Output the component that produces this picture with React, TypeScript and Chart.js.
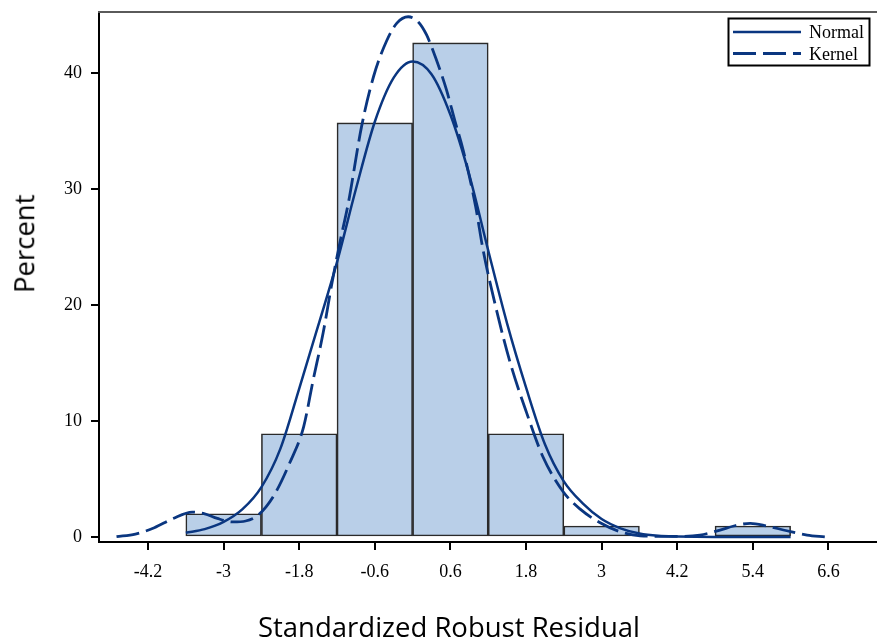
import React, { useEffect, useRef } from "react";
import { Chart, registerables } from "chart.js";

Chart.register(...registerables);

// Histogram bins (midpoints) and percentages
const binCenters = [-3, -1.8, -0.6, 0.6, 1.8, 3, 4.2, 5.4];
const binPercents: (number | null)[] = [2.0, 8.9, 35.7, 42.6, 8.9, 0.95, null, 0.95];

// Normal density curve (percent scale)
const normalX = [-3.6, -3.3, -3.0, -2.7, -2.4, -2.1, -1.8, -1.5, -1.2, -0.9, -0.6, -0.3, 0.0, 0.3, 0.6, 0.9, 1.2, 1.5, 1.8, 2.1, 2.4, 2.7, 3.0, 3.3, 3.6, 3.9, 4.2, 4.8, 5.4, 6.0];
const normalY = [0.37, 0.68, 1.3, 2.4, 4.3, 7.6, 12.8, 18.2, 23.7, 30.0, 35.8, 39.6, 41.0, 39.9, 36.4, 31.2, 24.7, 18.4, 12.9, 8.0, 4.8, 2.9, 1.55, 0.75, 0.3, 0.1, 0.04, 0.0, 0.0, 0.0];

// Kernel density curve (percent scale)
const kernelX = [-4.7, -4.4, -4.1, -3.8, -3.5, -3.3, -3.1, -2.85, -2.65, -2.45, -2.2, -1.95, -1.73, -1.58, -1.42, -1.28, -1.15, -1.02, -0.81, -0.62, -0.41, -0.25, -0.07, 0.09, 0.22, 0.38, 0.54, 0.67, 0.8, 1.0, 1.12, 1.33, 1.55, 1.81, 2.07, 2.39, 2.66, 2.97, 3.29, 3.61, 4.14, 4.56, 4.88, 5.1, 5.36, 5.62, 5.94, 6.26, 6.55];
const kernelY = [0.03, 0.25, 0.8, 1.6, 2.15, 2.0, 1.6, 1.3, 1.38, 1.9, 3.6, 6.4, 9.5, 13.5, 17.6, 21.9, 25.5, 28.8, 35.4, 39.7, 42.8, 44.3, 44.85, 44.4, 43.3, 41.1, 38.5, 35.9, 33.4, 28.5, 24.7, 19.6, 15.0, 10.7, 6.9, 3.9, 2.4, 1.25, 0.46, 0.1, 0.05, 0.17, 0.6, 0.95, 1.18, 0.95, 0.54, 0.17, 0.0];

const xTicks = [-4.2, -3, -1.8, -0.6, 0.6, 1.8, 3, 4.2, 5.4, 6.6];
const yTicks = [0, 10, 20, 30, 40];

const legendLabels = ["Normal", "Kernel"];

const LINE_COLOR = "#0a3680";

export default function App() {
  const canvasRef = useRef<HTMLCanvasElement | null>(null);

  useEffect(() => {
    const canvas = canvasRef.current;
    if (!canvas) return;

    const framePlugin = {
      id: "frameLegend",
      afterDraw(chart: any) {
        const ctx = chart.ctx;
        const area = chart.chartArea;
        ctx.save();
        // top frame line
        ctx.strokeStyle = "#5a5a5a";
        ctx.lineWidth = 2;
        ctx.beginPath();
        ctx.moveTo(area.left - 1, area.top);
        ctx.lineTo(chart.width, area.top);
        ctx.stroke();

        // legend box
        const bx = 728.5, by = 18.5, bw = 141, bh = 47;
        ctx.fillStyle = "#ffffff";
        ctx.fillRect(bx, by, bw, bh);
        ctx.strokeStyle = "#000";
        ctx.lineWidth = 2;
        ctx.strokeRect(bx, by, bw, bh);

        ctx.strokeStyle = LINE_COLOR;
        ctx.lineWidth = 2.5;
        ctx.setLineDash([]);
        ctx.beginPath();
        ctx.moveTo(733, 32);
        ctx.lineTo(801, 32);
        ctx.stroke();

        ctx.lineWidth = 2.8;
        ctx.setLineDash([23, 7]);
        ctx.beginPath();
        ctx.moveTo(733, 53.5);
        ctx.lineTo(801, 53.5);
        ctx.stroke();
        ctx.setLineDash([]);

        ctx.fillStyle = "#000";
        ctx.font = "18px 'Liberation Serif'";
        ctx.textAlign = "left";
        ctx.textBaseline = "alphabetic";
        ctx.fillText(legendLabels[0], 809, 38);
        ctx.fillText(legendLabels[1], 809, 60);
        ctx.restore();
      },
    };

    const chart = new Chart(canvas, {
      type: "bar",
      data: {
        datasets: [
          {
            type: "line",
            label: legendLabels[0],
            data: normalX.map((x, i) => ({ x, y: normalY[i] })),
            borderColor: LINE_COLOR,
            borderWidth: 2.5,
            pointRadius: 0,
            fill: false,
            cubicInterpolationMode: "monotone",
            order: 1,
          } as any,
          {
            type: "line",
            label: legendLabels[1],
            data: kernelX.map((x, i) => ({ x, y: kernelY[i] })),
            borderColor: LINE_COLOR,
            borderWidth: 2.8,
            borderDash: [23, 7],
            pointRadius: 0,
            fill: false,
            cubicInterpolationMode: "monotone",
            order: 2,
          } as any,
          {
            type: "bar",
            label: "Percent",
            data: binCenters.map((x, i) => ({ x, y: binPercents[i] })),
            backgroundColor: "#b9cfe8",
            borderColor: "#2a2a2a",
            borderWidth: 1.6,
            borderSkipped: false,
            barPercentage: 1,
            categoryPercentage: 1,
            order: 3,
          } as any,
        ],
      },
      options: {
        responsive: false,
        animation: false,
        layout: { padding: { top: 12, left: 0, right: 0, bottom: 0 } },
        plugins: {
          legend: { display: false },
          tooltip: { enabled: false },
        },
        scales: {
          x: {
            type: "linear",
            min: -4.978,
            max: 7.371,
            offset: false,
            afterBuildTicks: (scale: any) => {
              scale.ticks = xTicks.map((v) => ({ value: v }));
            },
            afterFit: (scale: any) => {
              scale.height = 102;
              scale.paddingLeft = 0;
              scale.paddingRight = 0;
            },
            ticks: {
              autoSkip: false,
              maxRotation: 0,
              padding: 11,
              color: "#000",
              font: { family: "'Liberation Serif'", size: 18 },
              callback: (v: any) => String(Number(Number(v).toFixed(1))),
            },
            grid: {
              display: true,
              drawOnChartArea: false,
              drawTicks: true,
              tickLength: 8,
              color: "#000",
              lineWidth: 2,
              offset: false,
            },
            border: { display: true, color: "#000", width: 2 },
          },
          y: {
            type: "linear",
            min: -0.43,
            max: 45.26,
            afterBuildTicks: (scale: any) => {
              scale.ticks = yTicks.map((v) => ({ value: v }));
            },
            afterFit: (scale: any) => {
              scale.width = 99;
              scale.paddingTop = 0;
              scale.paddingBottom = 0;
            },
            ticks: {
              padding: 9,
              color: "#000",
              font: { family: "'Liberation Serif'", size: 18 },
              callback: (v: any) => String(v),
            },
            grid: {
              display: true,
              drawOnChartArea: false,
              drawTicks: true,
              tickLength: 8,
              color: "#000",
              lineWidth: 2,
            },
            border: { display: true, color: "#000", width: 2 },
          },
        },
      },
      plugins: [framePlugin],
    } as any);

    return () => {
      chart.destroy();
    };
  }, []);

  return (
    <div style={{ position: "fixed", left: 0, top: 0, width: 877, height: 644, background: "#fff", overflow: "hidden" }}>
      <canvas ref={canvasRef} width={877} height={644} style={{ position: "absolute", left: 0, top: 0, width: 877, height: 644 }} />
      <div
        style={{
          position: "absolute",
          left: 249,
          top: 613,
          width: 400,
          textAlign: "center",
          fontFamily: "'Open Sans'",
          fontSize: 27.5,
          lineHeight: "27.5px",
          color: "#000",
          whiteSpace: "nowrap",
        }}
      >
        Standardized Robust Residual
      </div>
      <div
        style={{
          position: "absolute",
          left: -75.6,
          top: 230.25,
          width: 200,
          height: 27.5,
          textAlign: "center",
          fontFamily: "'Open Sans'",
          fontSize: 27.5,
          lineHeight: "27.5px",
          color: "#000",
          whiteSpace: "nowrap",
          transform: "rotate(-90deg)",
        }}
      >
        Percent
      </div>
    </div>
  );
}
